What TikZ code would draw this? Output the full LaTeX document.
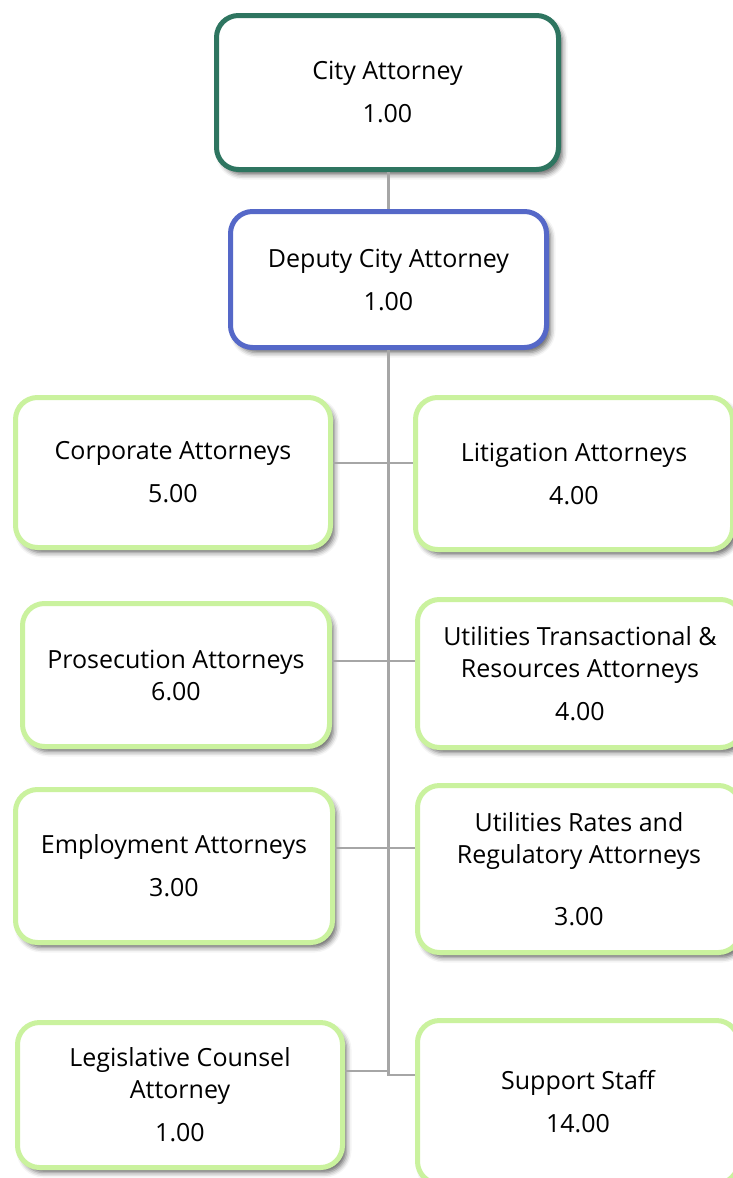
\documentclass[tikz,border=0pt]{standalone}
\usepackage{fontspec}
\setmainfont{Open Sans}
\usetikzlibrary{shadows.blur}
\definecolor{topgreen}{RGB}{46,117,96}
\definecolor{depblue}{RGB}{85,104,200}
\definecolor{lightgreen}{RGB}{202,242,158}
\definecolor{conngray}{RGB}{166,166,166}
\tikzset{
  box/.style={draw, line width=5pt, rounded corners=22pt, fill=white, align=center,
    inner sep=0pt, font=\fontsize{25}{32}\selectfont,
    blur shadow={shadow xshift=4pt, shadow yshift=-5pt, shadow blur radius=5pt, shadow opacity=60}},
  unit/.style={box, draw=lightgreen},
  conn/.style={draw=conngray, line width=2.8pt}
}
\begin{document}
\begin{tikzpicture}[x=1pt,y=-1pt]
\useasboundingbox (0,0) rectangle (733,1178);
\clip (0,0) rectangle (733,1178);
% junction points on the trunk
\coordinate (j1) at (388,463);
\coordinate (j2) at (388,661);
\coordinate (j3) at (388,848);
\coordinate (j4) at (388,1071);
\coordinate (j4r) at (388,1075);
% boxes
\node[box, draw=topgreen, minimum width=342pt, minimum height=154pt] (city) at (387.5,92.5) {City Attorney\\[11pt]1.00};
\node[box, draw=depblue, minimum width=316pt, minimum height=136pt] (dep) at (388.5,279.5) {Deputy City Attorney\\[11pt]1.00};
\node[unit, minimum width=315pt, minimum height=150pt] (corp) at (173,472.5) {Corporate Attorneys\\[11pt]5.00};
\node[unit, minimum width=317pt, minimum height=152pt] (lit) at (574,473.5) {Litigation Attorneys\\[11pt]4.00};
\node[unit, minimum width=307pt, minimum height=143pt] (pros) at (176,675) {Prosecution Attorneys\\6.00};
\node[unit, minimum width=325pt, minimum height=148pt] (utr) at (580,673.5) {Utilities Transactional \&\\Resources Attorneys\\[11pt]4.00};
\node[unit, minimum width=317pt, minimum height=153pt] (emp) at (174,866) {Employment Attorneys\\[11pt]3.00};
\node[unit, minimum width=323pt, minimum height=167pt] (rates) at (579,869) {Utilities Rates and\\Regulatory Attorneys\\[30pt]3.00};
\node[unit, minimum width=325pt, minimum height=145pt] (leg) at (180,1095) {Legislative Counsel\\Attorney\\[11pt]1.00};
\node[unit, minimum width=321pt, minimum height=163pt] (sup) at (578,1102) {Support Staff\\[11pt]14.00};
% connectors
\draw[conn] (dep.north) -- (dep.north |- city.south);
\draw[conn] (dep.south) -- (dep.south |- j4) -- (leg.east |- j4);
\draw[conn] (dep.south |- j4) -- (dep.south |- j4r) -- (sup.west |- j4r);
\draw[conn] (corp.east |- j1) -- (lit.west |- j1);
\draw[conn] (pros.east |- j2) -- (utr.west |- j2);
\draw[conn] (emp.east |- j3) -- (rates.west |- j3);
\end{tikzpicture}
\end{document}
